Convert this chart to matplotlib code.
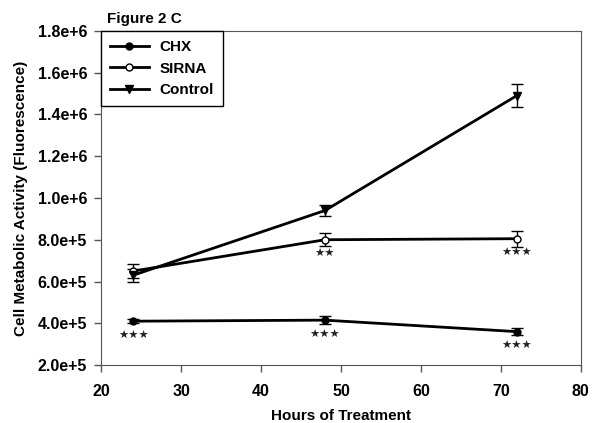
import numpy as np
import matplotlib
matplotlib.use('Agg')
import matplotlib.pyplot as plt
from matplotlib.lines import Line2D

plt.rcParams['font.family'] = ['Liberation Sans', 'DejaVu Sans']
plt.rcParams['font.weight'] = 'bold'

# hours of treatment
hours = [24, 48, 72]

# fluorescence readings (mean and error)
chx = [4.1e5, 4.15e5, 3.6e5]
chx_err = [1.0e4, 1.8e4, 1.5e4]
sirna = [6.5e5, 8.0e5, 8.05e5]
sirna_err = [3.5e4, 3.0e4, 3.8e4]
control = [6.3e5, 9.4e5, 1.49e6]
control_err = [3.0e4, 2.8e4, 5.5e4]

# significance marks
chx_stars = ['★★★', '★★★', '★★★']
sirna_stars = ['', '★★', '★★★']

yticks = np.arange(2e5, 1.81e6, 2e5)
ytick_labels = ['%.1fe+%d' % (v / 10**int(np.floor(np.log10(v))), int(np.floor(np.log10(v)))) for v in yticks]

fig = plt.figure(figsize=(5.92, 4.23), dpi=100)
ax = fig.add_axes([0.171, 0.137, 0.810, 0.79])

ax.errorbar(hours, chx, yerr=chx_err, fmt='-o', color='black', mfc='black',
            ms=5, lw=2, elinewidth=1, capsize=4)
ax.errorbar(hours, sirna, yerr=sirna_err, fmt='-o', color='black', mfc='white',
            ms=5, lw=2, elinewidth=1, capsize=4)
ax.errorbar(hours, control, yerr=control_err, fmt='-v', color='black', mfc='black',
            ms=6, lw=2, elinewidth=1, capsize=4)

for x, y, s in zip(hours, chx, chx_stars):
    ax.text(x, y - 7.0e4, s, ha='center', va='center', fontsize=8.2,
            family='DejaVu Sans', color='#222222')
for x, y, s in zip(hours, sirna, sirna_stars):
    if s:
        ax.text(x, y - 7.0e4, s, ha='center', va='center', fontsize=8.2,
                family='DejaVu Sans', color='#222222')

ax.set_xlim(20, 80)
ax.set_ylim(2e5, 1.8e6)
ax.set_xticks(range(20, 81, 10))
ax.set_yticks(yticks)
ax.set_yticklabels(ytick_labels)
ax.tick_params(labelsize=11.5, width=1, length=5, direction='out', color='#555555')
ax.tick_params(axis='x', pad=9)
ax.tick_params(axis='y', pad=5)
for sp in ax.spines.values():
    sp.set_color('#555555')

ax.set_xlabel('Hours of Treatment', fontsize=11, fontweight='bold', labelpad=7)
ax.set_ylabel('Cell Metabolic Activity (Fluorescence)', fontsize=11, fontweight='bold', labelpad=7)
ax.text(0.012, 1.015, 'Figure 2 C', transform=ax.transAxes, fontsize=11,
        fontweight='bold', ha='left', va='bottom')

handles = [
    Line2D([], [], color='black', lw=2, marker='o', ms=5, mfc='black'),
    Line2D([], [], color='black', lw=2, marker='o', ms=5, mfc='white'),
    Line2D([], [], color='black', lw=2, marker='v', ms=6, mfc='black'),
]
leg = ax.legend(handles, ['CHX', 'SIRNA', 'Control'], loc='upper left', fontsize=11,
                fancybox=False, framealpha=1, edgecolor='black', borderaxespad=0,
                handlelength=2.5, handletextpad=0.7, borderpad=0.6, labelspacing=0.5)
leg.get_frame().set_linewidth(1)

fig.savefig('out.png', dpi=100)
